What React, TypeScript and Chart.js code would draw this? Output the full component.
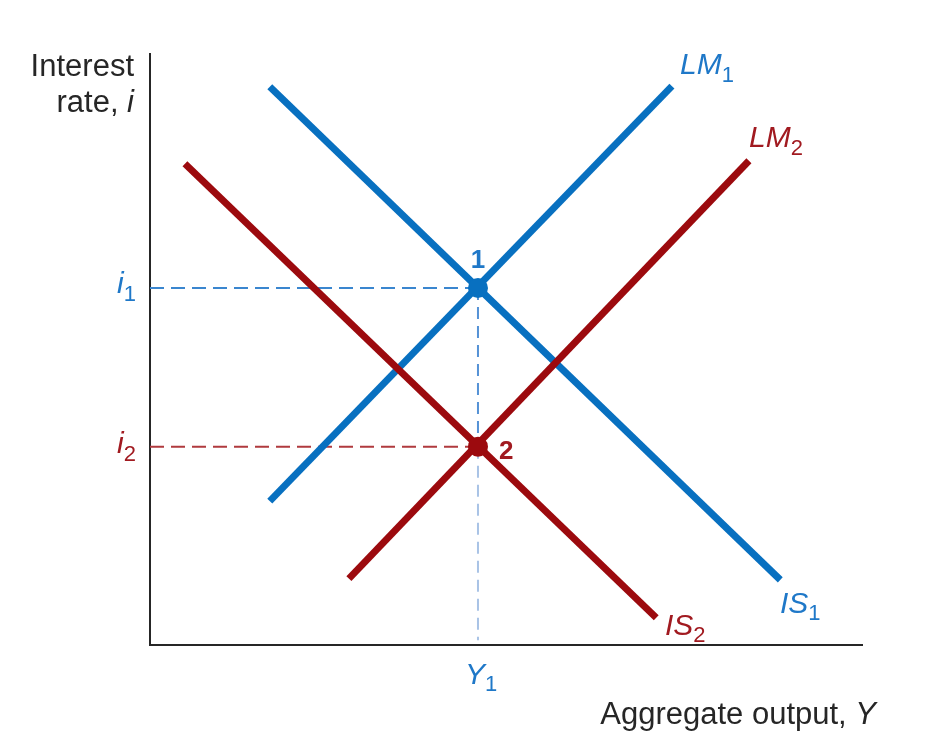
import React, { useEffect, useRef } from "react";
import { Chart, registerables } from "chart.js";

Chart.register(...registerables);

// Curves: two end points each (x = output, y = interest rate, arbitrary units 0..10)
const is1X = [1.68, 8.84];
const is1Y = [9.43, 1.1];
const lm1X = [1.68, 7.32];
const lm1Y = [2.43, 9.44];
const is2X = [0.49, 7.1];
const is2Y = [8.13, 0.46];
const lm2X = [2.79, 8.4];
const lm2Y = [1.12, 8.18];

// Equilibria
const eqLabels = ["1", "2"];
const eqX = [4.6, 4.6];
const eqY = [6.03, 3.35];

const xMin = 0;
const xMax = 10;
const yMin = 0;
const yMax = 10;

const BLUE = "#0870c0";
const RED = "#9c0a0e";
const BLUE_TXT = "#1f78c8";
const RED_TXT = "#a11a20";
const DARK = "#262626";

const pts = (xs: number[], ys: number[]) => xs.map((x, i) => ({ x, y: ys[i] }));

type Part = { t: string; size: number; italic?: boolean; bold?: boolean; dy?: number };

function drawRich(ctx: CanvasRenderingContext2D, x: number, y: number, parts: Part[], color: string, align: "left" | "right" | "center" = "left") {
  const fontOf = (p: Part) => `${p.italic ? "italic " : ""}${p.bold ? "bold " : ""}${p.size}px "Liberation Sans", Arial, sans-serif`;
  let total = 0;
  const widths = parts.map((p) => {
    ctx.font = fontOf(p);
    const w = ctx.measureText(p.t).width;
    total += w;
    return w;
  });
  let cx = x;
  if (align === "right") cx = x - total;
  if (align === "center") cx = x - total / 2;
  ctx.fillStyle = color;
  ctx.textBaseline = "alphabetic";
  ctx.textAlign = "left";
  parts.forEach((p, i) => {
    ctx.font = fontOf(p);
    ctx.fillText(p.t, cx, y + (p.dy || 0));
    cx += widths[i];
  });
}

const axesPlugin = {
  id: "axesPlugin",
  beforeDatasetsDraw(chart: any) {
    const { ctx, chartArea } = chart;
    ctx.save();
    ctx.strokeStyle = DARK;
    ctx.lineWidth = 2;
    ctx.beginPath();
    ctx.moveTo(chartArea.left, chartArea.top);
    ctx.lineTo(chartArea.left, chartArea.bottom + 1);
    ctx.moveTo(chartArea.left - 1, chartArea.bottom);
    ctx.lineTo(chartArea.right, chartArea.bottom);
    ctx.stroke();
    ctx.restore();
  },
};

const labelsPlugin = {
  id: "labelsPlugin",
  afterDatasetsDraw(chart: any) {
    const { ctx } = chart;
    const xs = chart.scales.x;
    const ys = chart.scales.y;
    ctx.save();
    const M = 31;
    const L = 30;
    const S = 22;
    // axis titles
    drawRich(ctx, 134, 76, [{ t: "Interest", size: M }], DARK, "right");
    drawRich(ctx, 134, 112, [{ t: "rate, ", size: M }, { t: "i", size: M, italic: true }], DARK, "right");
    drawRich(ctx, 876, 724, [{ t: "Aggregate output, ", size: M }, { t: "Y", size: M, italic: true }], DARK, "right");
    // curve labels
    drawRich(ctx, 680, 74, [{ t: "LM", size: L, italic: true }, { t: "1", size: S, dy: 8 }], BLUE_TXT);
    drawRich(ctx, 749, 147, [{ t: "LM", size: L, italic: true }, { t: "2", size: S, dy: 8 }], RED_TXT);
    drawRich(ctx, 780, 613, [{ t: "IS", size: L, italic: true }, { t: "1", size: S, dy: 7 }], BLUE_TXT);
    drawRich(ctx, 665, 635, [{ t: "IS", size: L, italic: true }, { t: "2", size: S, dy: 7 }], RED_TXT);
    // tick-like labels
    const y1 = ys.getPixelForValue(eqY[0]);
    const y2 = ys.getPixelForValue(eqY[1]);
    const xe = xs.getPixelForValue(eqX[0]);
    drawRich(ctx, 117, y1 + 5, [{ t: "i", size: L, italic: true }, { t: "1", size: S, dy: 8 }], BLUE_TXT);
    drawRich(ctx, 117, y2 + 6, [{ t: "i", size: L, italic: true }, { t: "2", size: S, dy: 8 }], RED_TXT);
    drawRich(ctx, xe - 13, 684, [{ t: "Y", size: L, italic: true }, { t: "1", size: S, dy: 7 }], BLUE_TXT);
    // equilibrium labels
    drawRich(ctx, xe, y1 - 20, [{ t: eqLabels[0], size: 26, bold: true }], BLUE_TXT, "center");
    drawRich(ctx, xe + 21, y2 + 12, [{ t: eqLabels[1], size: 26, bold: true }], RED_TXT);
    ctx.restore();
  },
};

export default function App() {
  const ref = useRef<HTMLCanvasElement | null>(null);
  useEffect(() => {
    if (!ref.current) return;
    const lineDs = (label: string, data: any[], color: string, order: number) => ({
      label,
      data,
      showLine: true,
      borderColor: color,
      borderWidth: 7,
      borderCapStyle: "butt",
      pointRadius: 0,
      fill: false,
      order,
    });
    const dashDs = (label: string, data: any[], color: string, dash: number[]) => ({
      label,
      data,
      showLine: true,
      borderColor: color,
      borderWidth: 2,
      borderDash: dash,
      pointRadius: 0,
      fill: false,
      order: 4,
    });
    const chart = new Chart(ref.current, {
      type: "scatter",
      data: {
        datasets: [
          {
            label: "equilibria",
            data: pts(eqX, eqY),
            showLine: false,
            pointRadius: 10,
            pointBackgroundColor: [BLUE, RED],
            pointBorderWidth: 0,
            order: 0,
          } as any,
          lineDs("IS2", pts(is2X, is2Y), RED, 1),
          lineDs("LM2", pts(lm2X, lm2Y), RED, 1),
          lineDs("IS1", pts(is1X, is1Y), BLUE, 2),
          lineDs("LM1", pts(lm1X, lm1Y), BLUE, 2),
          dashDs("i1", [{ x: xMin, y: eqY[0] }, { x: eqX[0], y: eqY[0] }], "#3a86cf", [14, 7]),
          dashDs("i2", [{ x: xMin, y: eqY[1] }, { x: eqX[1], y: eqY[1] }], "#b03a3e", [14, 7]),
          dashDs("Y1a", [{ x: eqX[0], y: eqY[0] }, { x: eqX[1], y: eqY[1] }], "#5592d6", [12, 7]),
          dashDs("Y1b", [{ x: eqX[1], y: eqY[1] }, { x: eqX[1], y: yMin + 0.08 }], "#a9c3e6", [12, 7]),
        ] as any,
      },
      options: {
        responsive: false,
        animation: false,
        devicePixelRatio: 1,
        layout: { padding: { left: 150, top: 53, right: 80, bottom: 90 } },
        scales: {
          x: { type: "linear", min: xMin, max: xMax, display: false },
          y: { type: "linear", min: yMin, max: yMax, display: false },
        },
        plugins: {
          legend: { display: false },
          title: { display: false },
          tooltip: { enabled: false },
        },
        elements: { line: { tension: 0 } },
      } as any,
      plugins: [axesPlugin, labelsPlugin],
    });
    return () => chart.destroy();
  }, []);
  return (
    <div style={{ position: "fixed", left: 0, top: 0, width: 943, height: 735, background: "#fff" }}>
      <canvas ref={ref} width={943} height={735} style={{ display: "block" }} />
    </div>
  );
}
